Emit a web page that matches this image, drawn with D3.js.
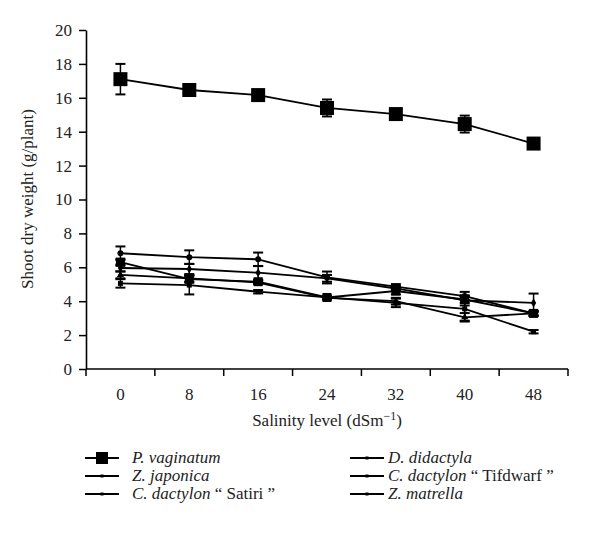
<!DOCTYPE html>
<html><head><meta charset="utf-8">
<script src="https://cdn.jsdelivr.net/npm/d3@7"></script>
<style>body{margin:0;background:#fff} svg text{font-family:"Liberation Serif","DejaVu Serif","Noto Serif","Times New Roman",serif !important}</style>
</head><body><svg id="c" width="600" height="537"></svg>
<script>
const salinity = ["0","8","16","24","32","40","48"];
const yTicks = [0,2,4,6,8,10,12,14,16,18,20];
const seriesNames = ["P. vaginatum","Z. japonica","C. dactylon “ Satiri ”","D. didactyla","C. dactylon “ Tifdwarf ”","Z. matrella"];
const pVaginatum   = [17.1, 16.46, 16.16, 15.4, 15.04, 14.45, 13.3];
const pVaginatumErr= [0.9, 0.1, 0.1, 0.5, 0.2, 0.5, 0.25];
const zJaponica    = [6.3, 5.3, 5.15, 4.22, 4.6, 4.1, 3.28];
const zJaponicaErr = [0.2, 0.2, 0.1, 0.1, 0.2, 0.2, 0.15];
const cSatiri      = [5.55, 5.35, 5.1, 4.2, 4.0, 3.05, 3.28];
const cSatiriErr   = [0.2, 0.2, 0.1, 0.1, 0.2, 0.25, 0.1];
const dDidactyla   = [6.83, 6.6, 6.47, 5.4, 4.86, 4.3, 3.28];
const dDidactylaErr= [0.4, 0.4, 0.4, 0.35, 0.15, 0.25, 0.15];
const cTifdwarf    = [5.05, 4.95, 4.56, 4.22, 3.9, 3.55, 2.2];
const cTifdwarfErr = [0.25, 0.55, 0.1, 0.1, 0.25, 0.7, 0.1];
const zMatrella    = [5.96, 5.9, 5.68, 5.35, 4.75, 4.05, 3.9];
const zMatrellaErr = [0.2, 0.3, 0.4, 0.2, 0.15, 0.3, 0.55];

const series = [
  {name:seriesNames[0], v:pVaginatum, e:pVaginatumErr, m:"bigsq"},
  {name:seriesNames[1], v:zJaponica, e:zJaponicaErr, m:"medsq"},
  {name:seriesNames[2], v:cSatiri, e:cSatiriErr, m:"tri"},
  {name:seriesNames[3], v:dDidactyla, e:dDidactylaErr, m:"dot"},
  {name:seriesNames[4], v:cTifdwarf, e:cTifdwarfErr, m:"smsq"},
  {name:seriesNames[5], v:zMatrella, e:zMatrellaErr, m:"dia"}
];

const svg = d3.select("#c");
const L=86, R=568, T=30, B=369;
const x = d3.scaleBand().domain(salinity).range([L,R]);
const y = d3.scaleLinear().domain([0,20]).range([B,T]);

const gy = svg.append("g").attr("transform",`translate(${L},0)`)
  .call(d3.axisLeft(y).tickValues(yTicks).tickSize(7).tickPadding(7).tickSizeOuter(0));
const gx = svg.append("g").attr("transform",`translate(0,${B})`)
  .call(d3.axisBottom(x).tickSize(0).tickPadding(19));
const bounds = salinity.map(s=>x(s)).concat([R]);
gx.selectAll(".bt").data(bounds).enter().append("line")
  .attr("x1",d=>d).attr("x2",d=>d).attr("y1",0).attr("y2",7)
  .attr("stroke","#000").attr("stroke-width",1.5);
[gx,gy].forEach(g=>{
  g.attr("font-family",null);
  g.select(".domain").attr("stroke","#000").attr("stroke-width",1.6);
  g.selectAll(".tick line").attr("stroke","#000").attr("stroke-width",1.5);
  g.selectAll("text").attr("font-size",17).attr("fill","#222");
});
gx.select(".domain").attr("d",`M${L},0H${R}`);

svg.append("text").attr("transform","translate(33,199) rotate(-90)").attr("text-anchor","middle")
  .attr("font-size",17).attr("fill","#222").text("Shoot dry weight (g/plant)");
const xt = svg.append("text").attr("x",327).attr("y",426).attr("text-anchor","middle")
  .attr("font-size",17).attr("fill","#222");
xt.append("tspan").text("Salinity level (dSm");
xt.append("tspan").attr("dy",-6).attr("font-size",12).text("−1");
xt.append("tspan").attr("dy",6).text(")");

const cx = d=>x(d)+x.bandwidth()/2;
function marker(g, m, px, py){
  if(m==="bigsq") g.append("rect").attr("x",px-7).attr("y",py-7).attr("width",14).attr("height",14).attr("fill","#000");
  else if(m==="medsq") g.append("rect").attr("x",px-4.5).attr("y",py-4.5).attr("width",9).attr("height",9).attr("fill","#000");
  else if(m==="smsq") g.append("rect").attr("x",px-2.5).attr("y",py-2.5).attr("width",5).attr("height",5).attr("fill","#000");
  else if(m==="dot") g.append("circle").attr("cx",px).attr("cy",py).attr("r",3).attr("fill","#000");
  else if(m==="tri") g.append("path").attr("d",d3.symbol(d3.symbolTriangle,22)()).attr("transform",`translate(${px},${py})`).attr("fill","#000");
  else if(m==="dia") g.append("path").attr("d",d3.symbol(d3.symbolDiamond,24)()).attr("transform",`translate(${px},${py})`).attr("fill","#000");
}

const line = d3.line().x((d,i)=>cx(salinity[i])).y(d=>y(d));
series.forEach(s=>{
  const g = svg.append("g");
  s.v.forEach((v,i)=>{
    const px=cx(salinity[i]);
    const e=s.e[i];
    g.append("line").attr("x1",px).attr("x2",px).attr("y1",y(v+e)).attr("y2",y(v-e)).attr("stroke","#000").attr("stroke-width",1.5);
    [v+e,v-e].forEach(w=>g.append("line").attr("x1",px-5).attr("x2",px+5).attr("y1",y(w)).attr("y2",y(w)).attr("stroke","#000").attr("stroke-width",2));
  });
  g.append("path").datum(s.v).attr("d",line).attr("fill","none").attr("stroke","#000").attr("stroke-width",1.8);
  s.v.forEach((v,i)=>marker(g,s.m,cx(salinity[i]),y(v)));
});

const legPos = [[85,458],[85,476],[85,494],[350,458],[350,476],[350,494]];
series.forEach((s,i)=>{
  const [lx,ly]=legPos[i];
  const g=svg.append("g");
  g.append("line").attr("x1",lx).attr("x2",lx+34).attr("y1",ly).attr("y2",ly).attr("stroke","#000").attr("stroke-width",2);
  if(i===0) g.append("rect").attr("x",lx+11).attr("y",ly-6).attr("width",12).attr("height",12).attr("fill","#000");
  else g.append("rect").attr("x",lx+15.5).attr("y",ly-1.5).attr("width",3).attr("height",3).attr("fill","#000");
  const t=g.append("text").attr("x",i<3?lx+47:lx+38).attr("y",ly+5).attr("font-size",17).attr("fill","#222");
  const parts = s.name.split(" “");
  t.append("tspan").attr("font-style","italic").text(parts[0]);
  if(parts.length>1) t.append("tspan").text(" “"+parts[1]);
});
</script></body></html>
